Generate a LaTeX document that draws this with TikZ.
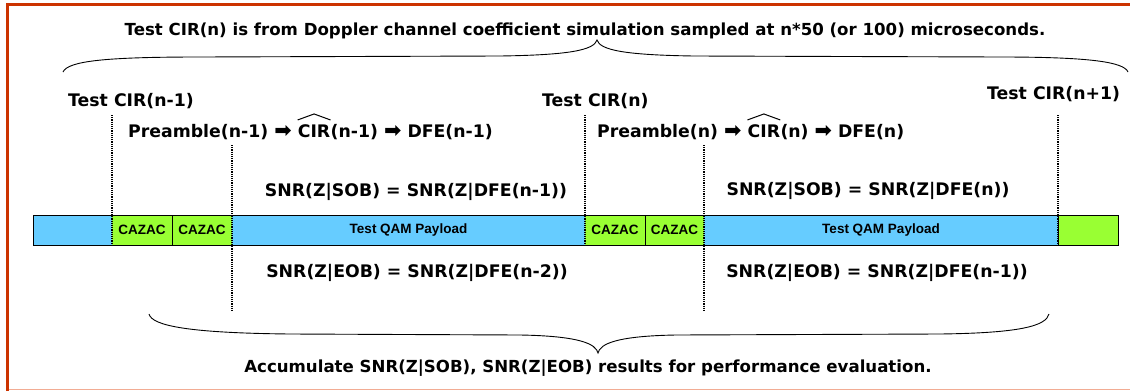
\documentclass[tikz,border=0pt]{standalone}
\usepackage{fontspec}
\setmainfont{DejaVu Sans}
\newfontfamily\barfont{Liberation Sans}
\usetikzlibrary{positioning}
\definecolor{payblue}{HTML}{66CCFF}
\definecolor{cazgreen}{HTML}{99FF33}
\definecolor{framered}{HTML}{CC3300}
\definecolor{framepink}{HTML}{F2AC94}
\newcommand{\stepto}{\raisebox{-0.3pt}{\scalebox{1.2}{➡}}}

\begin{document}
\begin{tikzpicture}[x=1pt, y=-1pt,
	lbl/.style={font=\fontsize{17.3}{20}\selectfont\bfseries, inner sep=0pt},
	headline/.style={font=\fontsize{16.6}{19}\selectfont\bfseries, inner sep=0pt},
	seg/.style={fill=#1, minimum height=30pt, inner sep=0pt, outer sep=0pt, font=\barfont\fontsize{13.5}{15}\selectfont\bfseries},
	barline/.style={line width=0.9pt},
	cutline/.style={dash pattern=on 1.1pt off 1.1pt, line width=1.1pt},
	brace/.style={line width=0.9pt}]
	\useasboundingbox (0,0) rectangle (1130,391);
	\draw[framered, line width=3pt] (7.5,391) -- (7.5,4) -- (1130,4);
	\draw[framepink, line width=1.5pt] (9,389.5) -- (1130,389.5);

	\node[headline] (title) at (585,31) {Test CIR(n) is from Doppler channel coefficient simulation sampled at n*50 (or 100) microseconds.};
	\coordinate (tbl) at (63,72);
	\coordinate (tbtip) at (597,40);
	\coordinate (tbr) at (1128,72);
	\draw[brace] (tbl) .. controls (68,61) and (105,57) .. (200,57) -- (500,56) .. controls (570,55) and (594,50) .. (tbtip) .. controls (600,50) and (624,55) .. (694,56) -- (1000,57) .. controls (1090,57) and (1124,62) .. (tbr);

	\node[lbl, anchor=base west] (tcirA) at (68,106) {Test CIR(n-1)};
	\node[lbl, anchor=base west] (tcirB) at (542,106) {Test CIR(n)};
	\node[lbl, anchor=base west] (tcirC) at (987,99) {Test CIR(n+1)};

	\node[lbl, anchor=base west] (preA) at (128,137) {Preamble(n-1) \stepto};
	\node[lbl, anchor=base west] (hatA) at ([xshift=5.8pt]preA.base east) {CIR};
	\node[lbl, anchor=base west] (postA) at (hatA.base east) {(n-1) \stepto\ DFE(n-1)};
	\draw[line width=1pt] ([yshift=4pt]hatA.north west) -- ([yshift=10pt]hatA.north) -- ([yshift=4pt]hatA.north east);
	\node[lbl, anchor=base west] (preB) at (597,137) {Preamble(n) \stepto};
	\node[lbl, anchor=base west] (hatB) at ([xshift=5.8pt]preB.base east) {CIR};
	\node[lbl, anchor=base west] (postB) at (hatB.base east) {(n) \stepto\ DFE(n)};
	\draw[line width=1pt] ([yshift=4pt]hatB.north west) -- ([yshift=10pt]hatB.north) -- ([yshift=4pt]hatB.north east);

	\node[lbl, anchor=base] (sobA) at (416,196) {SNR(Z|SOB) = SNR(Z|DFE(n-1))};
	\node[lbl, anchor=base] (eobA) at (417,277) {SNR(Z|EOB) = SNR(Z|DFE(n-2))};
	\node[lbl, anchor=base] (sobB) at (868,195) {SNR(Z|SOB) = SNR(Z|DFE(n))};
	\node[lbl, anchor=base] (eobB) at (877,277) {SNR(Z|EOB) = SNR(Z|DFE(n-1))};

	\node[seg=payblue, minimum width=79pt, anchor=west] (lead) at (33,230) {};
	\node[seg=cazgreen, minimum width=60pt, right=0pt of lead] (cazA) {CAZAC};
	\node[seg=cazgreen, minimum width=60pt, right=0pt of cazA] (cazB) {CAZAC};
	\node[seg=payblue, minimum width=353pt, right=0pt of cazB] (payA) {Test QAM Payload};
	\node[seg=cazgreen, minimum width=60pt, right=0pt of payA] (cazC) {CAZAC};
	\node[seg=cazgreen, minimum width=59pt, right=0pt of cazC] (cazD) {CAZAC};
	\node[seg=payblue, minimum width=354pt, right=0pt of cazD] (payB) {Test QAM Payload};
	\node[seg=cazgreen, minimum width=60pt, right=0pt of payB] (tail) {};
	\draw[barline] (lead.north west) rectangle (tail.south east);
	\draw[barline] (cazA.north east) -- (cazA.south east);
	\draw[barline] (cazC.north east) -- (cazC.south east);
	\draw[barline] (payB.north east) -- (payB.south east);

	\coordinate (cutA) at (112,115);
	\coordinate (cutBt) at (232,145);
	\coordinate (cutBb) at (232,312);
	\coordinate (cutC) at (585,115);
	\coordinate (cutDt) at (704,145);
	\coordinate (cutDb) at (704,312);
	\coordinate (cutE) at (1058,115);
	\draw[cutline] (cutA) -- (lead.south east);
	\draw[cutline] (cutBt) -- (cutBb);
	\draw[cutline] (cutC) -- (payA.south east);
	\draw[cutline] (cutDt) -- (cutDb);
	\draw[cutline] (cutE) -- (payB.south east);

	\coordinate (bbl) at (149,314);
	\coordinate (bbtip) at (598,353);
	\coordinate (bbr) at (1049,314);
	\draw[brace] (bbl) .. controls (152,326) and (190,333) .. (290,334) -- (520,335) .. controls (580,336) and (596,344) .. (bbtip) .. controls (600,344) and (616,336) .. (676,335) -- (940,334) .. controls (1020,333) and (1046,326) .. (bbr);
	\node[headline] (summary) at (588,368) {Accumulate SNR(Z|SOB), SNR(Z|EOB) results for performance evaluation.};
\end{tikzpicture}
\end{document}
